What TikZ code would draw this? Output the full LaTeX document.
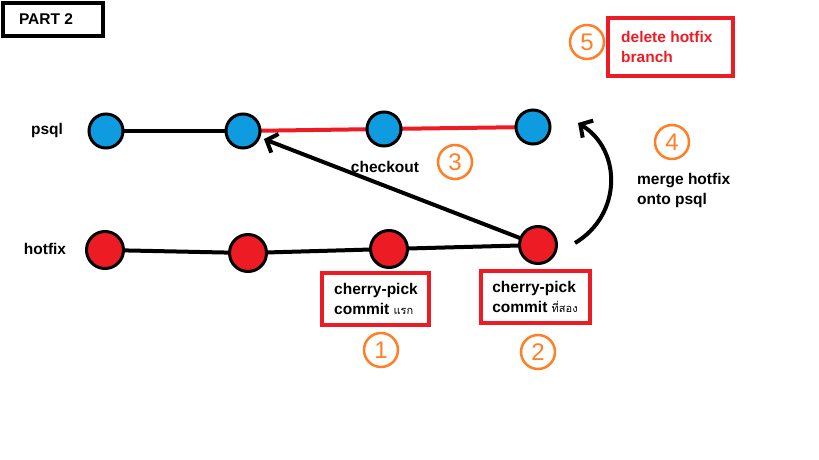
\documentclass[tikz,border=0pt]{standalone}
\usepackage{fontspec}
\setmainfont{Liberation Sans}
\newfontfamily\thaifont[Script=Thai]{Loma}
\usetikzlibrary{arrows.meta,calc}
\definecolor{pblue}{HTML}{0E9BE0}
\definecolor{pred}{HTML}{ED1C24}
\definecolor{porange}{HTML}{FF7F27}
\tikzset{
  bluec/.style={circle,draw=black,line width=3pt,fill=pblue,minimum size=34pt,inner sep=0pt},
  redc/.style={circle,draw=black,line width=3pt,fill=pred,minimum size=37pt,inner sep=0pt},
  lbl/.style={font=\fontsize{15.5}{20}\selectfont\bfseries,align=left,inner sep=0pt},
  redbox/.style={draw=pred,line width=4pt,inner sep=0pt},
  numc/.style={circle,draw=porange,line width=2.5pt,minimum size=34pt,inner sep=0pt,text=porange,font=\fontsize{24}{24}\selectfont},
  conn/.style={line width=4pt},
  arr/.style={line width=4pt,-{Straight Barb[length=9pt,width=20pt,line width=4pt]}},
}
\begin{document}
\begin{tikzpicture}[x=1pt,y=-1pt]
\useasboundingbox (0,0) rectangle (819,460);
% PART 2
\draw[line width=4pt] (3,3) rectangle (103,36);
\node[lbl] (part) at (46,19.5) {PART 2};
% labels
\node[lbl] (lpsql) at (47,130) {psql};
\node[lbl] (lhot) at (45,249) {hotfix};
% commits
\coordinate (p1c) at (106,131);
\coordinate (p2c) at (243,131);
\coordinate (p3c) at (384,129);
\coordinate (p4c) at (533,127);
\coordinate (h1c) at (105,250);
\coordinate (h2c) at (248,253);
\coordinate (h3c) at (389,249);
\coordinate (h4c) at (538,245);
\draw[conn] (p1c) -- (p2c);
\draw[conn,pred] (p2c) -- (p3c) -- (p4c);
\draw[conn] (h1c) -- (h2c) -- (h3c) -- (h4c);
\node[bluec] (p1) at (p1c) {};
\node[bluec] (p2) at (p2c) {};
\node[bluec] (p3) at (p3c) {};
\node[bluec] (p4) at (p4c) {};
\node[redc] (h1) at (h1c) {};
\node[redc] (h2) at (h2c) {};
\node[redc] (h3) at (h3c) {};
\node[redc] (h4) at (h4c) {};
% checkout arrow
\draw[arr,shorten <=-2pt,shorten >=4pt] (h4) -- (p2);
\node[lbl] (chk) at (385,167) {checkout};
\node[numc] (n3) at (455,162) {3};
% merge arrow
\coordinate (ms) at (575,243);
\coordinate (me) at (578,123);
\draw[arr] (ms) .. controls (622,215) and (622,150) .. (me);
\node[numc] (n4) at (672,142) {4};
\node[lbl,anchor=west] (merge) at (637,190) {merge hotfix\\onto psql};
% delete hotfix
\node[numc] (n5) at (587,42) {5};
\draw[redbox] (608,18) rectangle (733,76);
\node[lbl,anchor=west,text=pred] (del) at (621,47) {delete hotfix\\branch};
% cherry-pick boxes
\draw[redbox] (322,273) rectangle (429,325);
\node[lbl] (cp1) at (376,299) {cherry-pick\\commit {\thaifont\fontsize{11}{11}\selectfont\mdseries แรก}};
\draw[redbox] (481,271) rectangle (590,323);
\node[lbl] (cp2) at (535,297) {cherry-pick\\commit {\thaifont\fontsize{11}{11}\selectfont\mdseries ที่สอง}};
\node[numc] (n1) at (381,350) {1};
\node[numc] (n2) at (538,352) {2};
\end{tikzpicture}
\end{document}
